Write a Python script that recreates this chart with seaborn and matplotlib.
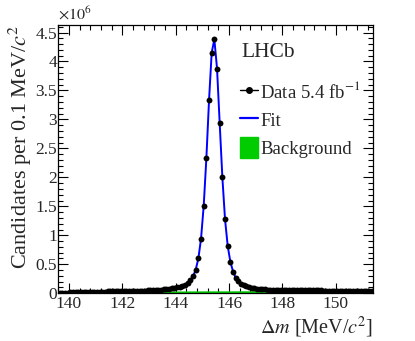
import numpy as np
import pandas as pd
import seaborn as sns
import matplotlib
matplotlib.use("Agg")
import matplotlib.pyplot as plt
from matplotlib.lines import Line2D
from matplotlib.patches import Patch
from matplotlib.ticker import MultipleLocator, FuncFormatter

# bin centres, 0.1 MeV wide bins from 139.6 to 151.4
bin_lo = 139.6
bin_width = 0.1
n_bins = 118

# candidates per bin, in units of 1e6
counts = [
    0.005, 0.008, 0.011, 0.013, 0.015, 0.017, 0.019, 0.020, 0.021, 0.022,
    0.023, 0.024, 0.025, 0.026, 0.027, 0.028, 0.029, 0.030, 0.031, 0.032,
    0.033, 0.034, 0.035, 0.036, 0.037, 0.038, 0.039, 0.040, 0.041, 0.042,
    0.043, 0.045, 0.047, 0.049, 0.051, 0.053, 0.056, 0.059, 0.063, 0.067,
    0.072, 0.077, 0.083, 0.090, 0.100, 0.112, 0.128, 0.150, 0.180, 0.228,
    0.290, 0.405, 0.600, 0.941, 1.505, 2.328, 3.328, 4.155, 4.380, 3.879,
    2.931, 2.000, 1.276, 0.816, 0.543, 0.375, 0.265, 0.205, 0.165, 0.137,
    0.117, 0.102, 0.091, 0.083, 0.077, 0.072, 0.068, 0.065, 0.062, 0.060,
    0.058, 0.057, 0.056, 0.055, 0.054, 0.053, 0.052, 0.052, 0.051, 0.051,
    0.050, 0.050, 0.049, 0.049, 0.049, 0.048, 0.048, 0.048, 0.048, 0.047,
    0.047, 0.047, 0.047, 0.047, 0.046, 0.046, 0.046, 0.046, 0.046, 0.046,
    0.046, 0.045, 0.045, 0.045, 0.045, 0.045, 0.045, 0.045,
]

# fitted background component, same bins
background = [
    0.003, 0.006, 0.008, 0.010, 0.012, 0.013, 0.015, 0.016, 0.017, 0.018,
    0.019, 0.020, 0.021, 0.022, 0.023, 0.024, 0.025, 0.025, 0.026, 0.027,
    0.027, 0.028, 0.029, 0.029, 0.030, 0.030, 0.031, 0.032, 0.032, 0.033,
    0.033, 0.034, 0.034, 0.035, 0.035, 0.036, 0.036, 0.037, 0.037, 0.038,
    0.038, 0.038, 0.039, 0.039, 0.039, 0.040, 0.040, 0.040, 0.040, 0.041,
    0.041, 0.041, 0.041, 0.041, 0.042, 0.042, 0.042, 0.042, 0.042, 0.042,
    0.042, 0.042, 0.042, 0.042, 0.042, 0.043, 0.043, 0.043, 0.043, 0.043,
    0.043, 0.043, 0.043, 0.043, 0.043, 0.043, 0.043, 0.043, 0.043, 0.043,
    0.043, 0.043, 0.043, 0.043, 0.043, 0.043, 0.043, 0.043, 0.043, 0.043,
    0.043, 0.043, 0.043, 0.043, 0.043, 0.043, 0.043, 0.043, 0.043, 0.043,
    0.043, 0.043, 0.043, 0.043, 0.043, 0.043, 0.043, 0.043, 0.043, 0.043,
    0.043, 0.043, 0.043, 0.043, 0.043, 0.043, 0.043, 0.043,
]

x_ticks = [140, 142, 144, 146, 148, 150]
y_ticks = [0, 0.5, 1, 1.5, 2, 2.5, 3, 3.5, 4, 4.5]

dm = bin_lo + bin_width * (np.arange(n_bins) + 0.5)
df = pd.DataFrame({"dm": dm, "counts": counts, "bkg": background})
df["fit"] = df["counts"]  # the fit sits on top of the points

sns.set_theme(style="ticks")
plt.rcParams["font.family"] = ["Liberation Serif", "DejaVu Serif"]
plt.rcParams["mathtext.fontset"] = "stix"

fig = plt.figure(figsize=(4.15, 3.41), dpi=100)
ax = fig.add_axes([0.1405, 0.14, 0.7585, 0.7867])

green = "#00cc00"
ax.fill_between(df["dm"], 0, df["bkg"], color=green, lw=0)
sns.lineplot(data=df, x="dm", y="fit", ax=ax, color="#0000ff", lw=1.4)
# horizontal bin-width bars, like ROOT draws them
ax.errorbar(df["dm"], df["counts"], xerr=bin_width / 2, fmt="none",
            ecolor="black", elinewidth=1.0, zorder=4)
sns.scatterplot(data=df, x="dm", y="counts", ax=ax, color="black",
                s=18, edgecolor="black", linewidth=0, zorder=5)

ax.set_xlim(139.6, 151.4)
ax.set_ylim(0, 4.63)
ax.set_xticks(x_ticks)
ax.set_yticks(y_ticks)
ax.xaxis.set_minor_locator(MultipleLocator(0.4))
ax.yaxis.set_minor_locator(MultipleLocator(0.1))
ax.yaxis.set_major_formatter(FuncFormatter(lambda v, p: f"{v:g}"))
ax.tick_params(which="both", direction="in", top=True, right=True,
               labelsize=12.5, width=0.8, color="black")
ax.tick_params(which="major", length=7)
ax.tick_params(which="minor", length=3.5)
ax.tick_params(axis="x", pad=2)
ax.tick_params(axis="y", pad=1)
for s in ax.spines.values():
    s.set_linewidth(0.9)
    s.set_color("black")

ax.set_xlabel(r"$\Delta m$ [MeV/$c^2$]", fontsize=14.5, loc="right", labelpad=2)
ax.set_ylabel(r"Candidates per 0.1 MeV/$c^2$", fontsize=16, loc="top", labelpad=1)
ax.text(0.0, 1.005, r"$\times10^{6}$", transform=ax.transAxes,
        fontsize=11.5, ha="left", va="bottom")

ax.text(0.581, 0.897, "LHCb", transform=ax.transAxes, fontsize=15.5,
        ha="left", va="center")

handles = [
    Line2D([], [], color="black", marker="o", markersize=4, lw=1.0),
    Line2D([], [], color="#0000ff", lw=1.6),
    Patch(facecolor=green, edgecolor=green),
]
labels = [r"Data 5.4 fb$^{-1}$", "Fit", "Background"]
ax.legend(handles, labels, loc="upper left", bbox_to_anchor=(0.577, 0.79),
          frameon=False, fontsize=13.5, handlelength=0.96, handleheight=1.32,
          handletextpad=0.12, labelspacing=0.38, borderaxespad=0, borderpad=0)

fig.savefig("out.png", dpi=100)
